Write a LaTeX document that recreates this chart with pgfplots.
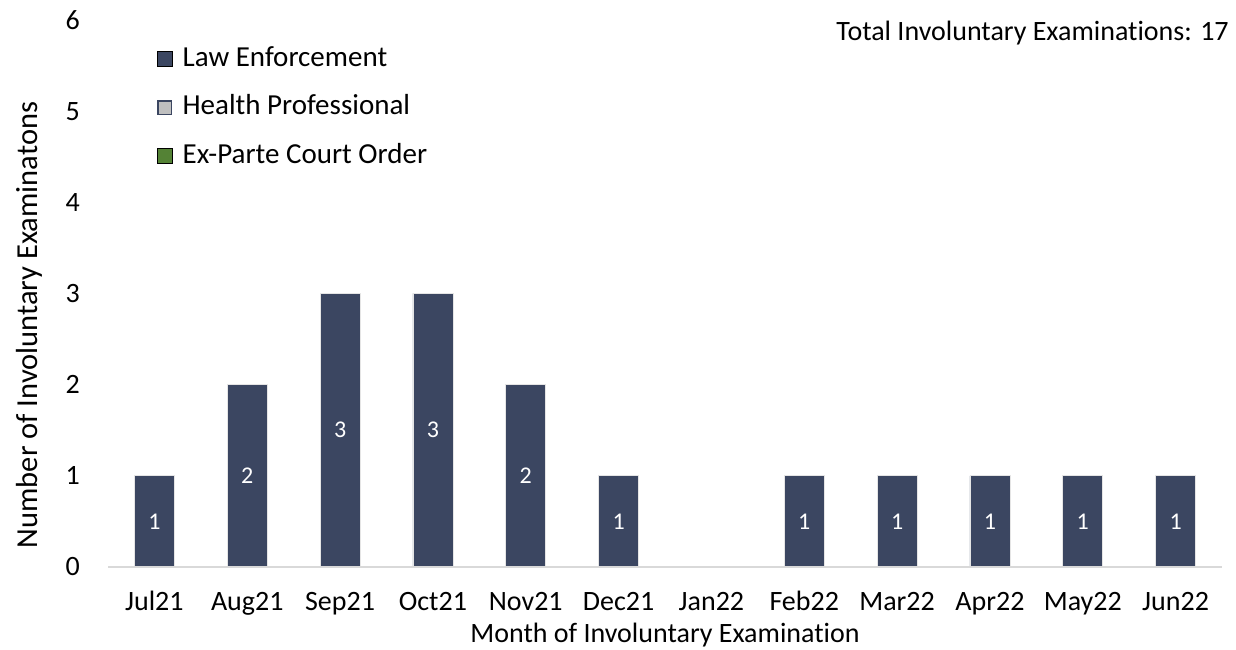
\documentclass[border=0pt]{standalone}
\usepackage{fontspec}
\setmainfont{Carlito}[Ligatures=NoCommon]
\usepackage{pgfplots}
\pgfplotsset{compat=1.18}
\definecolor{lawblue}{HTML}{3B4661}
\definecolor{hpgray}{HTML}{BFBFBF}
\definecolor{epgreen}{HTML}{548235}
\definecolor{baseline}{HTML}{D9D9D9}

\begin{document}
\begin{tikzpicture}
\useasboundingbox (0pt,0pt) rectangle (1236pt,650pt);
\begin{axis}[
  at={(108pt,83pt)}, anchor=south west,
  width=1114pt, height=547pt, scale only axis,
  ybar stacked, bar width=40pt,
  xmin=-0.5, xmax=11.5, ymin=0, ymax=6,
  xtick={0,...,11},
  xticklabels={Jul21,Aug21,Sep21,Oct21,Nov21,Dec21,Jan22,Feb22,Mar22,Apr22,May22,Jun22},
  ytick={0,...,6},
  axis x line*=bottom, axis y line*=left,
  x axis line style={draw=baseline, line width=1.5pt},
  y axis line style={draw=none},
  tick style={draw=none},
  axis on top,
  font=\fontsize{28}{34}\selectfont,
  /pgf/number format/assume math mode=true,
  yticklabel style={inner sep=0pt, xshift=-28pt},
  xticklabel style={anchor=base, inner sep=0pt, yshift=-44pt},
  xlabel={Month of Involuntary Examination},
  xlabel style={at={(axis description cs:0.5,0)}, anchor=base, inner sep=0pt, yshift=-75pt},
  ylabel={Number of Involuntary Examinatons},
  ylabel style={at={(axis description cs:-0.063,0.4424)}, anchor=base, inner sep=0pt,
    font=\fontsize{30.5}{36}\selectfont},
  legend style={at={(axis description cs:0.044,0.9525)}, anchor=north west,
    draw=none, fill=none, inner sep=0pt, row sep=22.5pt,
    font=\fontsize{29}{34}\selectfont,
    nodes={inner sep=0pt, text height=20pt, text depth=6pt},
    /tikz/every odd column/.append style={column sep=10pt}},
  legend cell align=left,
]
\addlegendimage{legend image code/.code={\path[fill=lawblue] (0pt,-7.5pt) rectangle (15pt,7.5pt);}}
\addlegendentry{Law Enforcement}
\addlegendimage{legend image code/.code={\path[fill=hpgray, draw=lawblue, line width=1.5pt] (0.75pt,-6.75pt) rectangle (14.25pt,6.75pt);}}
\addlegendentry{Health Professional}
\addlegendimage{legend image code/.code={\path[fill=epgreen] (0pt,-7.5pt) rectangle (15pt,7.5pt);}}
\addlegendentry{Ex-Parte Court Order}

% Law Enforcement
\addplot[forget plot, fill=lawblue, draw=white!80!gray, line width=0.75pt,
  nodes near coords={\pgfmathfloatifflags{\pgfplotspointmeta}{0}{}{\pgfmathprintnumber{\pgfplotspointmeta}}},
  every node near coord/.append style={anchor=center, text=white,
    font=\fontsize{24}{28}\selectfont}]
  coordinates {(0,1) (1,2) (2,3) (3,3) (4,2) (5,1) (6,0) (7,1) (8,1) (9,1) (10,1) (11,1)};
% Health Professional
\addplot[forget plot, draw=none, fill=none]
  coordinates {(0,0) (1,0) (2,0) (3,0) (4,0) (5,0) (6,0) (7,0) (8,0) (9,0) (10,0) (11,0)};
% Ex-Parte Court Order
\addplot[forget plot, draw=none, fill=none]
  coordinates {(0,0) (1,0) (2,0) (3,0) (4,0) (5,0) (6,0) (7,0) (8,0) (9,0) (10,0) (11,0)};
\end{axis}
\node[anchor=base east, inner sep=0pt, font=\fontsize{28}{34}\selectfont] at (1229pt,609pt) {Total Involuntary Examinations: 17};
\end{tikzpicture}
\end{document}
